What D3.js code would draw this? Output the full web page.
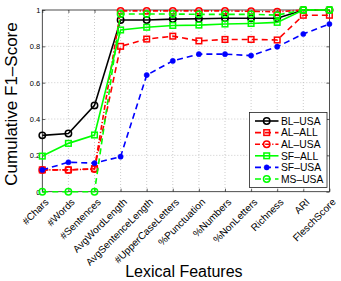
<!DOCTYPE html>
<html>
<head>
<meta charset="utf-8">
<script src="https://cdn.jsdelivr.net/npm/d3@7"></script>
<style>
  body { margin: 0; background: #fff; }
  svg { display: block; font-family: 'Liberation Sans', Arial, sans-serif; }
</style>
</head>
<body>
<svg id="chart" width="341" height="281"></svg>
<script>
// feature order along the x axis
let categories = ['#Chars', '#Words', '#Sentences', 'AvgWordLength', 'AvgSentenceLength',
  '#UpperCaseLetters', '%Punctuation', '%Numbers', '%NonLetters', 'Richness', 'ARI', 'FleschScore'];

let blUsa = [0.31, 0.32, 0.475, 0.945, 0.945, 0.95, 0.952, 0.955, 0.955, 0.955, 1.0, 1.0];
let alAll = [0.12, 0.12, 0.127, 0.80, 0.84, 0.856, 0.83, 0.838, 0.838, 0.835, 0.971, 0.971];
let alUsa = [0.12, 0.12, 0.125, 0.995, 0.995, 0.995, 0.995, 0.995, 0.993, 0.99, 1.0, 1.0];
let sfAll = [0.196, 0.266, 0.312, 0.89, 0.905, 0.915, 0.917, 0.923, 0.926, 0.932, 1.0, 1.0];
let sfUsa = [0.12, 0.162, 0.157, 0.193, 0.642, 0.72, 0.757, 0.757, 0.749, 0.798, 0.868, 0.923];
let msUsa = [0, 0, 0, 0.978, 0.978, 0.978, 0.976, 0.976, 0.976, 0.972, 1.0, 1.0];

let yTicks = [0, 0.2, 0.4, 0.6, 0.8, 1];

let series = [
  { name: 'BL\u2013USA', values: blUsa, color: '#000', dash: null, marker: 'circle' },
  { name: 'AL\u2013ALL', values: alAll, color: '#f00', dash: '6,4', marker: 'square' },
  { name: 'AL\u2013USA', values: alUsa, color: '#f00', dash: '5,2,1.2,2', marker: 'circle' },
  { name: 'SF\u2013ALL', values: sfAll, color: '#0f0', dash: null, marker: 'square' },
  { name: 'SF\u2013USA', values: sfUsa, color: '#00f', dash: '6,4', marker: 'dot' },
  { name: 'MS\u2013USA', values: msUsa, color: '#0f0', dash: '6,4', marker: 'circle' }
];

let svg = d3.select('#chart');
let plotLeft = 42.3, plotRight = 329.4, plotTop = 10, plotBottom = 191.7;

let x = d3.scalePoint().domain(categories).range([plotLeft, plotRight]);
let y = d3.scaleLinear().domain([0, 1]).range([plotBottom, plotTop]);

// grid
let grid = svg.append('g');
grid.selectAll('.gx').data(categories.slice(1, -1)).enter().append('line')
  .attr('x1', d => x(d)).attr('x2', d => x(d))
  .attr('y1', plotTop).attr('y2', plotBottom)
  .attr('stroke', '#b5b5b5').attr('stroke-width', 0.7).attr('stroke-dasharray', '1,2');
grid.selectAll('.gy').data(yTicks.slice(1, -1)).enter().append('line')
  .attr('x1', plotLeft).attr('x2', plotRight)
  .attr('y1', d => y(d)).attr('y2', d => y(d))
  .attr('stroke', '#b5b5b5').attr('stroke-width', 0.7).attr('stroke-dasharray', '1,2');

// box
svg.append('rect')
  .attr('x', plotLeft).attr('y', plotTop)
  .attr('width', plotRight - plotLeft).attr('height', plotBottom - plotTop)
  .attr('fill', 'none').attr('stroke', '#222').attr('stroke-width', 0.8);

// axes with inward ticks
let xAxis = svg.append('g')
  .attr('transform', `translate(0,${plotBottom})`)
  .call(d3.axisBottom(x).tickSize(-3).tickFormat(''));
xAxis.select('.domain').remove();
xAxis.selectAll('line').attr('stroke', '#222').attr('stroke-width', 0.7);

let xTop = svg.append('g')
  .attr('transform', `translate(0,${plotTop})`)
  .call(d3.axisTop(x).tickSize(-3).tickFormat(''));
xTop.select('.domain').remove();
xTop.selectAll('line').attr('stroke', '#222').attr('stroke-width', 0.7);

let yAxis = svg.append('g')
  .attr('transform', `translate(${plotLeft},0)`)
  .call(d3.axisLeft(y).tickValues(yTicks).tickSize(-3).tickPadding(2).tickFormat(d3.format('~g')));
yAxis.select('.domain').remove();
yAxis.selectAll('line').attr('stroke', '#222').attr('stroke-width', 0.7);
yAxis.selectAll('text').attr('font-size', 7.5).attr('fill', '#000')
  .attr('font-family', "'Liberation Sans', Arial, sans-serif");

let yRight = svg.append('g')
  .attr('transform', `translate(${plotRight},0)`)
  .call(d3.axisRight(y).tickValues(yTicks).tickSize(-3).tickFormat(''));
yRight.select('.domain').remove();
yRight.selectAll('line').attr('stroke', '#222').attr('stroke-width', 0.7);

// rotated category labels
svg.append('g').selectAll('text').data(categories).enter().append('text')
  .attr('transform', d => `translate(${x(d) + 4.5},${plotBottom + 8.5}) rotate(-45)`)
  .attr('text-anchor', 'end')
  .attr('font-size', 10)
  .attr('dy', '0.35em')
  .text(d => d);

// axis titles
svg.append('text')
  .attr('x', (plotLeft + plotRight) / 2 - 2).attr('y', 277)
  .attr('text-anchor', 'middle').attr('font-size', 16)
  .text('Lexical Features');
svg.append('text')
  .attr('transform', 'translate(17,104) rotate(-90)')
  .attr('text-anchor', 'middle').attr('font-size', 17)
  .text('Cumulative F1\u2013Score');

function drawMarker(g, s, cx, cy) {
  if (s.marker === 'circle') {
    g.append('circle').attr('cx', cx).attr('cy', cy).attr('r', 3.2)
      .attr('fill', 'none').attr('stroke', s.color).attr('stroke-width', 1.5);
  } else if (s.marker === 'square') {
    g.append('rect').attr('x', cx - 2.8).attr('y', cy - 2.8).attr('width', 5.6).attr('height', 5.6)
      .attr('fill', 'none').attr('stroke', s.color).attr('stroke-width', 1.5);
  } else {
    g.append('circle').attr('cx', cx).attr('cy', cy).attr('r', 2.6)
      .attr('fill', s.color).attr('stroke', s.color).attr('stroke-width', 0.5);
  }
}

let line = d3.line().x((d, i) => x(categories[i])).y(d => y(d));

series.forEach(s => {
  let g = svg.append('g');
  g.append('path')
    .attr('d', line(s.values))
    .attr('fill', 'none')
    .attr('stroke', s.color)
    .attr('stroke-width', 1.6)
    .attr('stroke-dasharray', s.dash);
  s.values.forEach((v, i) => drawMarker(g, s, x(categories[i]), y(v)));
});

// legend
let legend = svg.append('g');
legend.append('rect')
  .attr('x', 249.5).attr('y', 112.5).attr('width', 77.5).attr('height', 75)
  .attr('fill', '#fff').attr('stroke', '#222').attr('stroke-width', 0.8);
series.forEach((s, i) => {
  let ly = 121 + i * 11.6;
  let g = legend.append('g');
  g.append('line')
    .attr('x1', 255).attr('x2', 278.5).attr('y1', ly).attr('y2', ly)
    .attr('stroke', s.color).attr('stroke-width', 1.6)
    .attr('stroke-dasharray', s.dash);
  drawMarker(g, s, 266.7, ly);
  g.append('text')
    .attr('x', 281).attr('y', ly).attr('dy', '0.36em')
    .attr('font-size', 10.3)
    .text(s.name);
});
</script>
</body>
</html>
